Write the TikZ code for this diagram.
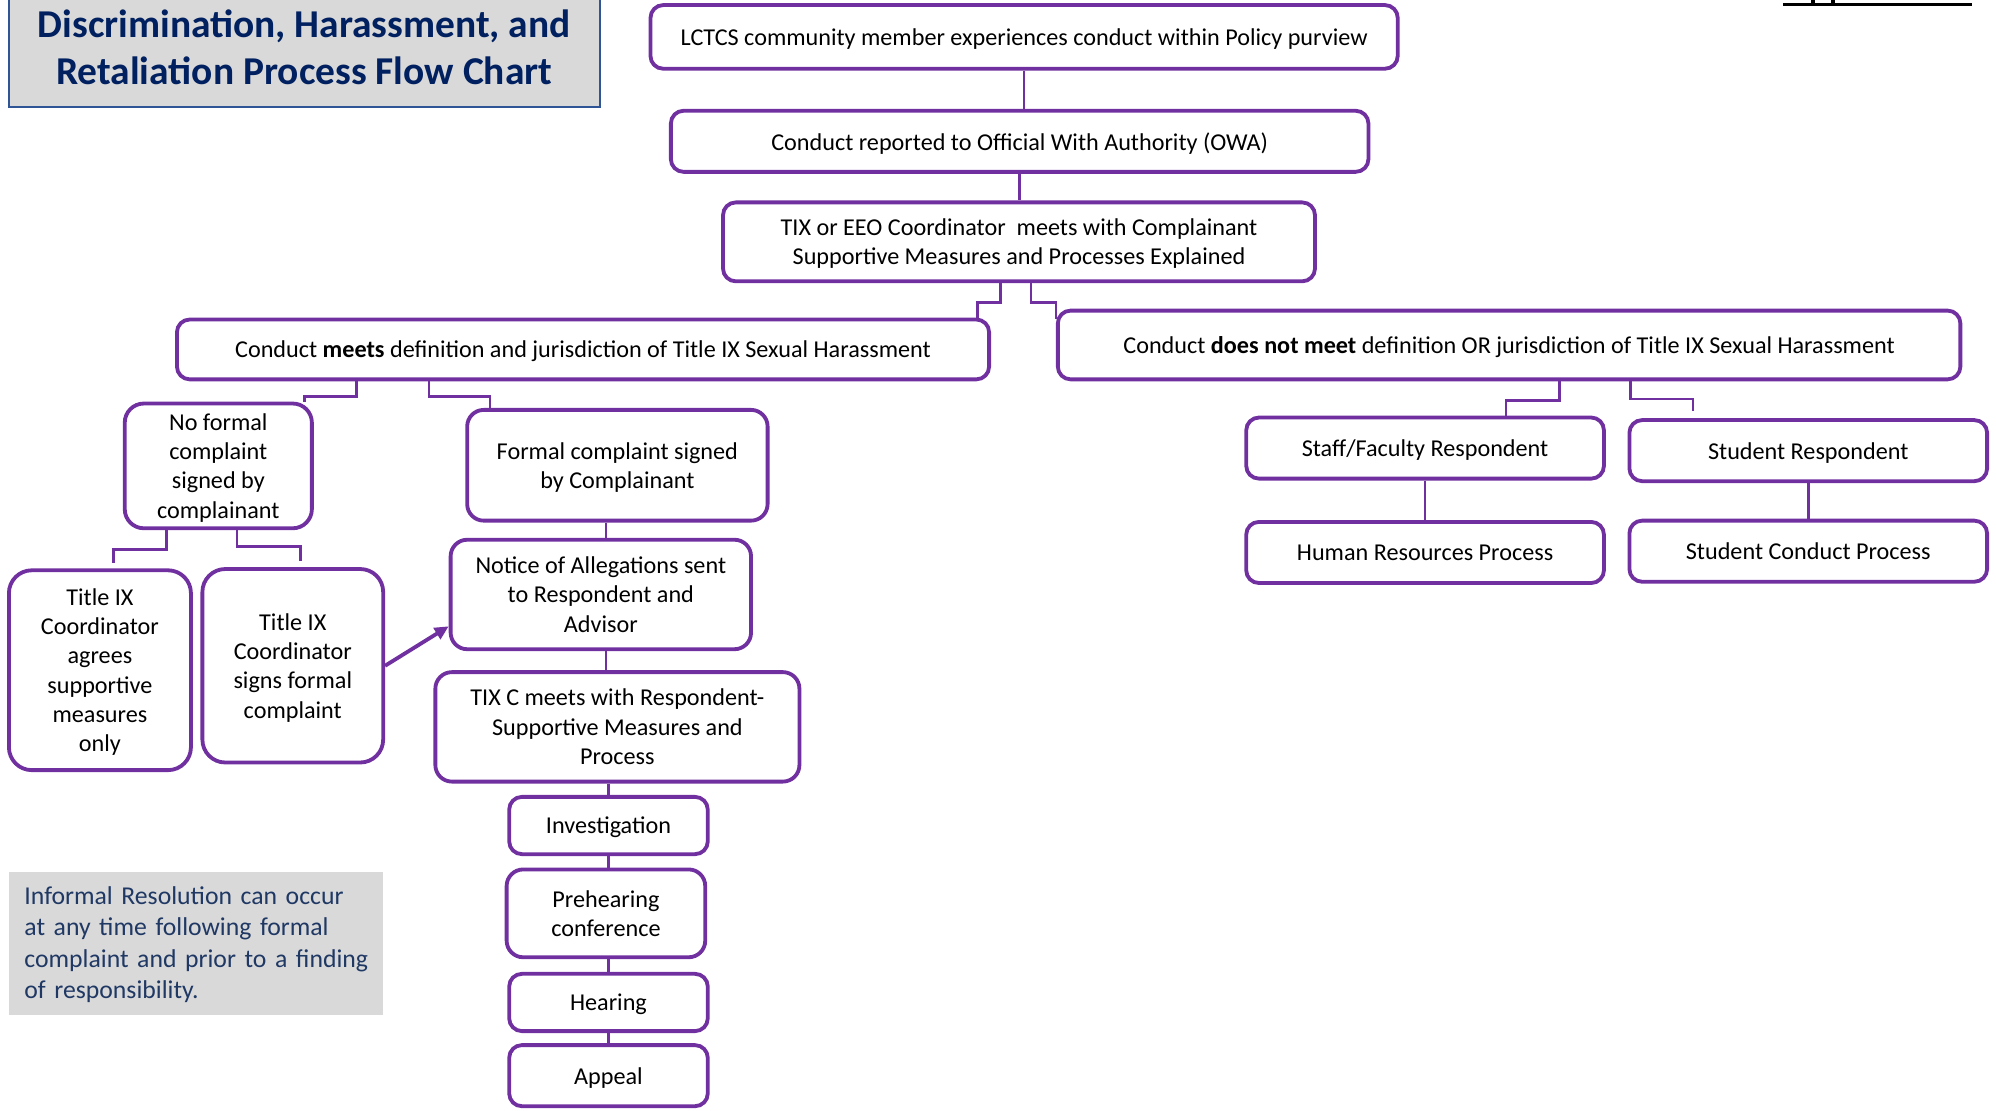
\documentclass[tikz,border=0pt]{standalone}
\usepackage{fontspec}
\setmainfont{Carlito}
\usetikzlibrary{arrows.meta}
\definecolor{pur}{HTML}{7030A0}
\definecolor{navy}{HTML}{002060}
\definecolor{navyt}{HTML}{1F3864}
\definecolor{greyfill}{HTML}{D9D9D9}
\definecolor{titleborder}{HTML}{2F5597}
\newcommand{\boxfont}{\fontsize{19}{23}\selectfont}
\tikzset{
  box/.style={draw=pur, line width=3pt, rounded corners=10pt, fill=white,
    align=center, inner sep=0pt, font=\boxfont, text=black, text depth=0pt},
  tallbox/.style={box, rounded corners=18pt},
  conn/.style={draw=pur, line width=2pt},
}
\begin{document}
\begin{tikzpicture}[x=1pt, y=-1pt]
\useasboundingbox (0,0) rectangle (1568,872);
% title
\draw[draw=titleborder, line width=1.5pt, fill=greyfill] (7,-5) rectangle (471,84);
\node[inner sep=0pt, align=center, text=navy, font=\fontsize{31}{37}\selectfont\bfseries]
  (title) at (239,37) {Discrimination, Harassment, and\\Retaliation Process Flow Chart};
% top-right cropped underline
\draw[line width=2.5pt] (1401,3.5) -- (1549,3.5);
\fill (1422.5,0) rectangle (1425.5,3.5);
\fill (1438.5,0) rectangle (1441.5,3.5);
% main chain
\node[box, minimum width=587pt, minimum height=50pt] (b1) at (804.5,29)
  {LCTCS community member experiences conduct within Policy purview};
\node[box, minimum width=548pt, minimum height=48pt] (b2) at (801,111)
  {Conduct reported to Official With Authority (OWA)};
\node[box, minimum width=465pt, minimum height=62pt] (b3) at (800.5,190)
  {TIX or EEO Coordinator\ \ meets with Complainant\\Supportive Measures and Processes Explained};
\node[box, minimum width=638pt, minimum height=47pt] (b4) at (458,274.5)
  {Conduct \textbf{meets} definition and jurisdiction of Title IX Sexual Harassment};
\node[box, minimum width=709pt, minimum height=54pt] (b5) at (1185.5,271)
  {Conduct \textbf{does not meet} definition OR jurisdiction of Title IX Sexual Harassment};
% left branch
\node[box, rounded corners=15pt, minimum width=147pt, minimum height=98pt] (nf) at (171.5,366)
  {No formal\\complaint\\signed by\\complainant};
\node[box, rounded corners=13pt, minimum width=236pt, minimum height=87pt] (fc) at (485,365.5)
  {Formal complaint signed\\by Complainant};
\node[tallbox, minimum width=143pt, minimum height=157pt] (ta) at (78.5,526.5)
  {Title IX\\Coordinator\\agrees\\supportive\\measures\\only};
\node[tallbox, minimum width=142pt, minimum height=152pt] (ts) at (230,523)
  {Title IX\\Coordinator\\signs formal\\complaint};
\node[box, rounded corners=13pt, minimum width=236pt, minimum height=86pt] (no) at (472,467)
  {Notice of Allegations sent\\to Respondent and\\Advisor};
\node[box, rounded corners=13pt, minimum width=286pt, minimum height=86pt] (tc) at (485,571)
  {TIX C meets with Respondent-\\Supportive Measures and\\Process};
\node[box, minimum width=156pt, minimum height=45pt] (inv) at (478,648.5) {Investigation};
\node[box, rounded corners=13pt, minimum width=156pt, minimum height=69pt] (pre) at (476,717.5)
  {Prehearing\\conference};
\node[box, minimum width=156pt, minimum height=45pt] (hear) at (478,787.5) {Hearing};
\node[box, minimum width=156pt, minimum height=48pt] (app) at (478,845) {Appeal};
% right branch
\node[box, minimum width=281pt, minimum height=48pt] (sf) at (1119.5,352) {Staff/Faculty Respondent};
\node[box, minimum width=281pt, minimum height=48pt] (sr) at (1420.5,354) {Student Respondent};
\node[box, minimum width=281pt, minimum height=48pt] (hr) at (1119.5,434) {Human Resources Process};
\node[box, minimum width=281pt, minimum height=48pt] (sc) at (1420.5,433) {Student Conduct Process};
% informal note
\fill[greyfill] (7,685) rectangle (301,797);
\node[inner sep=0pt, text width=280pt, align=left, text=navyt,
  font=\fontsize{20.2}{24.8}\selectfont, anchor=west]
  (inf) at (19,742)
  {Informal Resolution can occur\\at any time following formal\\complaint and prior to a finding\\of responsibility.};
% connectors
\draw[conn] (b1.south) -- (b1.south |- b2.north);
\draw[conn] (b2.south) -- (b2.south |- b3.north);
\draw[conn] ([xshift=-14.5pt]b3.south) -- ++(0,15) -| ([xshift=310pt]b4.north);
\draw[conn] ([xshift=9.5pt]b3.south) -- ++(0,15) -| ([yshift=-8pt]b5.north west);
\draw[conn] ([xshift=-178pt]b4.south) -- ++(0,12) -| ([xshift=67.5pt]nf.north);
\draw[conn] ([xshift=-121pt]b4.south) -- ++(0,12) -| ([xshift=-100pt]fc.north);
\draw[conn] ([xshift=-40.5pt]nf.south) -- ++(0,15) -| ([xshift=10.5pt,yshift=4pt]ta.north);
\draw[conn] ([xshift=14.5pt]nf.south) -- ++(0,13) -| ([xshift=6pt,yshift=4.5pt]ts.north);
\draw[conn] ([xshift=39.5pt]b5.south) -- ++(0,15) -| ([xshift=63.5pt]sf.north);
\draw[conn] ([xshift=95.5pt]b5.south) -- ++(0,14) -| ([xshift=-90.5pt,yshift=5.5pt]sr.north);
\draw[conn] (sf.south) -- (hr.north);
\draw[conn] (sr.south) -- (sc.north);
\draw[conn] ([xshift=-9pt]fc.south) -- ([xshift=-9pt]fc.south |- no.north);
\draw[conn] ([xshift=4pt]no.south) -- ([xshift=4pt]no.south |- tc.north);
\draw[conn] (tc.south -| inv.north) -- (inv.north);
\draw[conn] (inv.south) -- (inv.south |- pre.north);
\draw[conn] (inv.south |- pre.south) -- (hear.north);
\draw[conn] (hear.south) -- (app.north);
\draw[conn, line width=3pt, -{Triangle[length=11pt,width=10pt]}] (ts.east) -- ([yshift=-25pt]no.west);
\end{tikzpicture}
\end{document}
